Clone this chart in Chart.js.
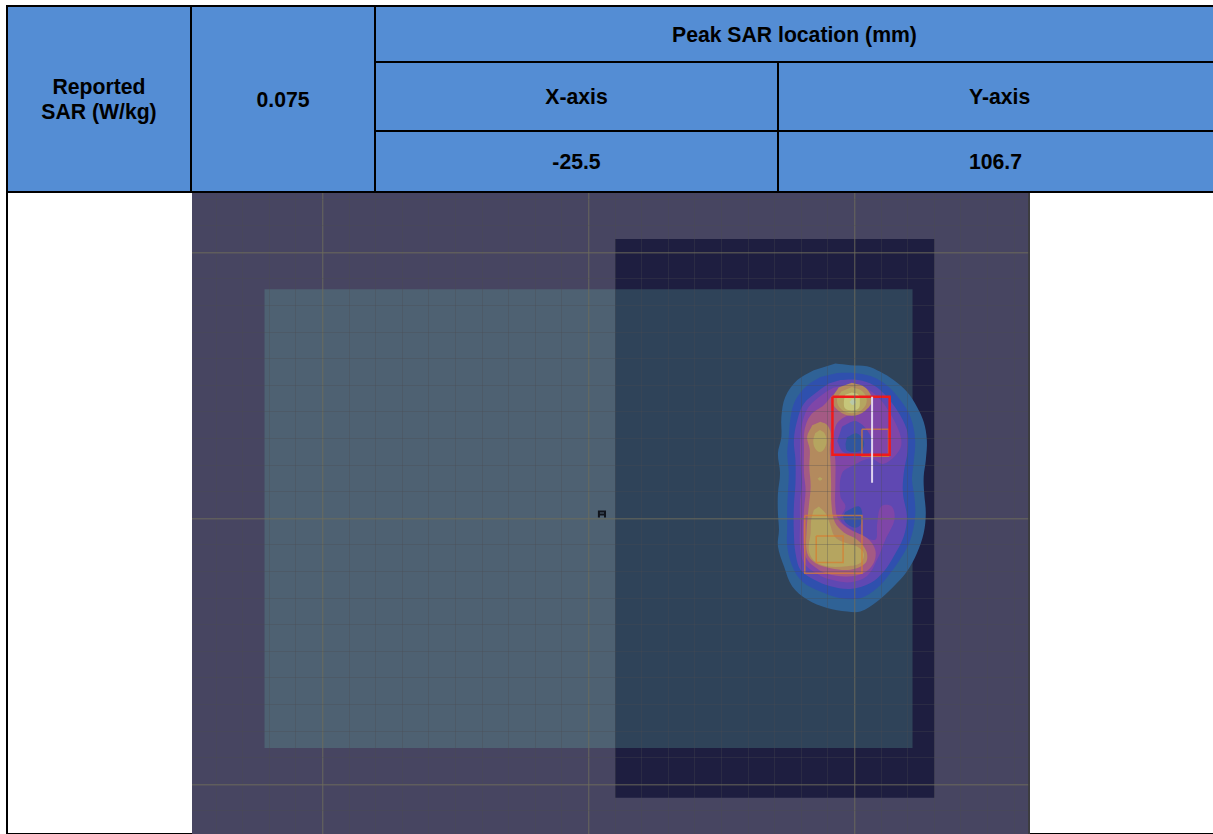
<!DOCTYPE html>
<html>
<head>
<meta charset="utf-8">
<title>SAR plot</title>
<script src="https://cdn.jsdelivr.net/npm/chart.js@4"></script>
<style>
html, body { margin: 0; padding: 0; background: #fff; overflow: hidden; width: 1213px; height: 834px; }
#sar_table { position: absolute; left: 6px; top: 5px; width: 1300px; border-collapse: collapse; table-layout: fixed;
    font-family: "Liberation Sans", Arial, sans-serif; font-weight: bold; font-size: 21.2px; color: #000; line-height: 25px; }
#sar_table td { background: #548dd4; border: 2px solid #000; text-align: center; padding: 0; }
#left_rule { position: absolute; left: 6px; top: 192px; width: 2px; height: 642px; background: #000; }
#bottom_rule { position: absolute; left: 6px; right: 0; top: 833px; height: 1px; background: #000; }
#plot_box { position: absolute; left: 192px; top: 193px; width: 838px; height: 641px; }
#edge_rule { position: absolute; left: 1028px; top: 193px; width: 2px; height: 641px; background: rgba(60,60,60,0.85); }
</style>
</head>
<body>
<table id="sar_table">
    <colgroup><col style="width:184px"><col style="width:184px"><col style="width:403px"><col style="width:529px"></colgroup>
    <tr style="height:56px"><td rowspan="3">Reported<br>SAR (W/kg)</td><td rowspan="3">0.075</td><td colspan="2" style="text-align:left;padding-left:296px">Peak SAR location (mm)</td></tr>
    <tr style="height:69px"><td>X-axis</td><td style="text-align:left;padding-left:190px">Y-axis</td></tr>
    <tr style="height:61px"><td>-25.5</td><td style="text-align:left;padding-left:190px">106.7</td></tr>
</table>
<div id="left_rule"></div>
<div id="bottom_rule"></div>
<div id="plot_box"><canvas id="sar_plot" width="838" height="641"></canvas></div>
<div id="edge_rule"></div>
<script>
'use strict';

// axis ticks in mm, a line every 10 mm
const x_ticks = [-140,-130,-120,-110,-100,-90,-80,-70,-60,-50,-40,-30,-20,-10,0,10,20,30,40,50,60,70,80,90,100,110,120,130,140,150,160];
const y_ticks = [120,110,100,90,80,70,60,50,40,30,20,10,0,-10,-20,-30,-40,-50,-60,-70,-80,-90,-100,-110];

// scan area and phone outline, mm
const scan_x = [10, 130, 130, 10, 10];
const scan_y = [105, 105, -105, -105, 105];
const phone_x = [-121.8, 121.8, 121.8, -121.8, -121.8];
const phone_y = [86.1, 86.1, -86.3, -86.3, 86.1];

// SAR contours, mm, outer level first
const level1_x = [92.8,98.5,104.7,109.7,114.7,119.7,123.5,126,127.2,126.8,126,126.2,126.8,126,123.5,119.7,114.7,108.5,102.2,97.2,89.7,82.2,76.6,73.5,71.2,71.6,71.2,71.2,72,71.2,72.5,72.5,74,78.5,84.7];
const level1_y = [58.2,57.6,57.2,55.1,52,47.6,41.9,36.3,29.4,21.9,15.7,9.4,2,-5.6,-13,-20,-25.6,-31.2,-35,-35,-33.7,-30.5,-25.6,-18.1,-10.5,-4.3,2,9.4,17,24.4,30.7,38.2,45.7,52,55.7];
const level2_x = [93.5,99.7,106,112.2,117.2,121,122.8,122.2,121.6,122.5,122.8,121,117.8,113.5,108.5,102.2,94.7,87.2,80.3,76.6,74.7,74.7,74.7,75,75.3,74.7,75.3,76,77.8,82.2,87.2];
const level2_y = [54.7,54.7,53.5,50,44.5,38.2,29.4,20.7,14.5,8.2,.7,-8,-14.3,-20.5,-26.2,-30,-30,-27.5,-23.7,-18,-10.5,-3,4.5,10.7,17,24.5,30.7,38.2,44.5,50,53.2];
const level3_x = [94.7,99.7,106,111,116,119.7,120,118.5,118.2,119.7,118.5,114.7,111,106,98.5,91,84.7,79.7,77.8,77.2,77.2,77.8,77.8,77.2,78.5,81,86,90.3];
const level3_y = [52,52.2,50.7,47,40.7,33.2,25.7,17,9.4,.7,-6.8,-14.3,-20,-24.3,-26.5,-25.5,-23,-19.3,-13,-5.6,4.5,13.2,21.9,29.4,37,43.2,47.6,50.7];
const level4_x = [96,102.2,107.8,112.8,117,117.2,111,106,99.7,95.3,94.7,96.6,94.7,100.3,107.8,108.5,110,114,115,111.6,108.5,104.7,98.5,91,85.3,81,79.5,79.5,79.5,80.3,79.7,79.5,80.3,82.8,88.5,92.2];
const level4_y = [50,49.7,46.6,40.5,32,26.3,20.5,22.5,20,17,8.2,4.5,-.5,-5,-8,-2,4.5,4.5,-.5,-8,-15.5,-21.7,-24,-23,-20.5,-16.8,-10.5,-2,6.8,13.2,20.7,28.2,35.7,42,47,49.2];
const level5_x = [96.6,102.2,105.7,105.7,101,95.3,92.8,92,92.8,92.8,92.8,94,98.5,104.7,107.8,107.2,103.5,97.2,89.7,84.7,81.6,80.7,81,81.6,81,81,81.2,83.5,88.5,91.6];
const level5_y = [48.5,48.5,45.7,43.2,40,37.6,34.5,28.2,21.9,13.2,4.5,-.5,-4.3,-7.4,-11.8,-16.8,-20.5,-21.8,-20.8,-18,-14.3,-6.8,3.2,10.7,17,25.7,33.2,38.8,42.6,46.3];
const hole_upper_x = [95.3,100.7,106,106,101.7,95.7,93.5];
const hole_upper_y = [34.5,36.5,31,25,23.5,25,29];
const hole_upper_blue_x = [97.2,100.7,103.5,103,100.7,97.2,96.6];
const hole_upper_blue_y = [30.5,32,29,26,25,25.5,28];
const hole_lower_x = [96.6,101.7,103,102.2,100,96.6,95.7];
const hole_lower_y = [2.5,4.5,1,-2.5,-3.5,-1.5,.7];
const ridge_x = [87.2,89.7,91,90.7,91,91.2,91.3,92.5,96,101,104.5,104.1,98.5,91,85.3,82.2,82,82.8,83.5,83,83.2,82.2,84.1];
const ridge_y = [36.3,35.1,32,25.7,20.7,13.2,5.7,-1.2,-5.3,-8,-12.4,-16.8,-19.3,-18.7,-16.8,-13,-4.3,4.5,11.9,19.5,25.7,30.7,35];
const peak_orange_x = [99,104,106.5,104,99,94,91.6,94];
const peak_orange_y = [51,49.2,44.5,40.5,38.6,40.5,44.5,49.2];
const ridge_yellow_x = [86.6,89.1,90.7,92.5,96,101,103.5,102.2,97.2,89.7,84.7,82.8,83.5,83.7,84.7];
const ridge_yellow_y = [4.5,1.9,-1.8,-6.8,-9,-10.6,-13.3,-16.8,-18,-18,-15.8,-11.8,-5.6,-.6,3.2];
const upper_yellow_x = [87,88.7,89.5,88.7,87,85.2,84.5,85.2];
const upper_yellow_y = [33.2,32,29.2,26.3,25,26.3,29.2,32];
const mid_dot_x = [87,87.9,87,86.1];
const mid_dot_y = [15.6,14.9,14.2,14.9];
const peak_yellow_x = [99,103,104.6,103,99,95,93.4,95];
const peak_yellow_y = [49.4,47.7,44.4,41,39.5,41,44.4,47.7];
const peak_light_x = [99,101.5,102,101.5,99,96.5,96,96.5];
const peak_light_y = [47.3,46.5,43.8,41.3,40.6,41.3,43.8,46.5];
const peak_centre_x = [99.3,100.5,99.3,98.1];
const peak_centre_y = [45,43.8,42.6,43.8];

// measurement boxes, mm
const area_scan_x = [91.7, 113.2, 113.2, 91.7, 91.7];
const area_scan_y = [45.7, 45.7, 23.9, 23.9, 45.7];
const zoom_upper_x = [102.8, 112.8, 112.8, 102.8, 102.8];
const zoom_upper_y = [33.5, 33.5, 23.4, 23.4, 33.5];
const zoom_lower_x = [81.3, 102.8, 102.8, 81.3, 81.3];
const zoom_lower_y = [1.1, 1.1, -20.6, -20.6, 1.1];
const zoom_small_x = [85.6, 95.7, 95.7, 85.6, 85.6];
const zoom_small_y = [-6.6, -6.6, -16.6, -16.6, -6.6];
const probe_x = [106.6, 106.6];
const probe_y = [45.7, 13.4];
const marker_x = [3.9, 3.9, 6.2, 6.2, 6.2, 3.9, 3.9];
const marker_y = [.3, 1.5, 1.5, .3, 2.6, 2.6, 1.5];

function points(xs, ys) {
    return xs.map((x, i) => ({x: x, y: ys[i]}));
}

function area(xs, ys, color, tension) {
    return {
        data: points(xs, ys), showLine: true, fill: 'shape', backgroundColor: color,
        borderWidth: 0, pointRadius: 0, tension: tension === undefined ? 0.35 : tension
    };
}

function line(xs, ys, color, width) {
    return {
        data: points(xs, ys), showLine: true, fill: false, borderColor: color,
        borderWidth: width, pointRadius: 0, tension: 0
    };
}

const is_major = (ctx) => ctx.tick && ctx.tick.value % 100 === 0;

const grid_options = () => ({
    z: 1,
    color: (ctx) => is_major(ctx) ? 'rgba(110,108,90,0.62)' : 'rgba(75,75,80,0.3)',
    lineWidth: (ctx) => is_major(ctx) ? 1.4 : 1,
    drawTicks: false
});

// listed back to front, Chart.js paints the first dataset last
const layers = [
    area(scan_x, scan_y, '#1e1e40', 0),
    area(phone_x, phone_y, 'rgba(104,184,167,0.244)', 0),
    area(level1_x, level1_y, '#2f6296'),
    area(level2_x, level2_y, '#2f50ae'),
    area(level3_x, level3_y, '#5f48b2'),
    area(level4_x, level4_y, '#7f46a8'),
    area(level5_x, level5_y, '#a45a84'),
    area(hole_upper_x, hole_upper_y, '#4f4bb4'),
    area(hole_upper_blue_x, hole_upper_blue_y, '#2f56a0'),
    area(hole_lower_x, hole_lower_y, '#3550aa'),
    area(ridge_x, ridge_y, '#b38a5e'),
    area(peak_orange_x, peak_orange_y, '#b38a5e', 0.4),
    area(ridge_yellow_x, ridge_yellow_y, '#b5a560'),
    area(upper_yellow_x, upper_yellow_y, '#b5a560', 0.4),
    area(mid_dot_x, mid_dot_y, '#b5a560', 0.4),
    area(peak_yellow_x, peak_yellow_y, '#b5a560', 0.4),
    area(peak_light_x, peak_light_y, '#c6c67a', 0.4),
    area(peak_centre_x, peak_centre_y, '#b9c9a8', 0.4),
    line(zoom_upper_x, zoom_upper_y, 'rgba(215,125,50,0.75)', 1.5),
    line(zoom_lower_x, zoom_lower_y, 'rgba(215,125,50,0.75)', 1.5),
    line(zoom_small_x, zoom_small_y, 'rgba(215,125,50,0.75)', 1.5),
    line(area_scan_x, area_scan_y, '#f01a1a', 2.5),
    line(probe_x, probe_y, 'rgba(235,225,245,0.9)', 2),
    line(marker_x, marker_y, '#10141c', 2)
];

const sar_plot = new Chart('sar_plot', {
    type: 'scatter',
    data: {datasets: layers.reverse()},
    options: {
        responsive: false,
        animation: false,
        layout: {padding: 0},
        plugins: {legend: {display: false}, tooltip: {enabled: false}},
        scales: {
            x: {
                type: 'linear', min: -149.07, max: 165.97,
                afterBuildTicks: (axis) => { axis.ticks = x_ticks.map((v) => ({value: v})); },
                ticks: {display: false},
                border: {display: false},
                grid: grid_options()
            },
            y: {
                type: 'linear', min: -118.65, max: 122.33,
                afterBuildTicks: (axis) => { axis.ticks = y_ticks.map((v) => ({value: v})); },
                ticks: {display: false},
                border: {display: false},
                grid: grid_options()
            }
        }
    },
    plugins: [{
        id: 'backdrop',
        beforeDraw(chart) {
            chart.ctx.fillStyle = '#474561';
            chart.ctx.fillRect(0, 0, chart.width, chart.height);
        }
    }]
});
</script>
</body>
</html>
